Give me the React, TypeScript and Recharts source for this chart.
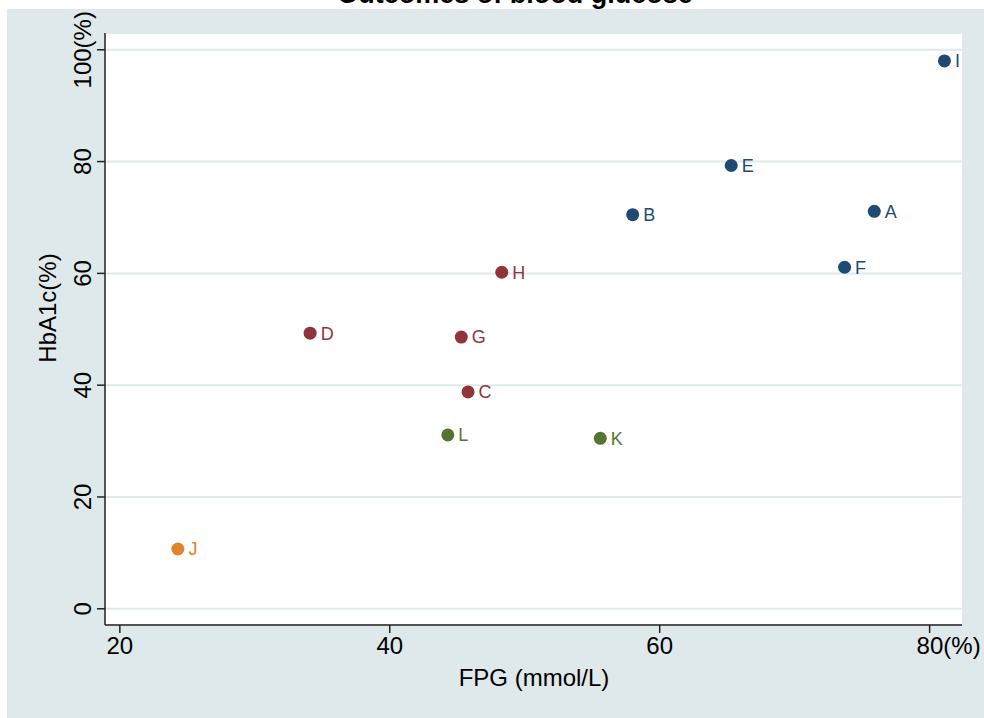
import { ScatterChart, Scatter, XAxis, YAxis, CartesianGrid, LabelList, Label } from "recharts";

// group 1 (navy)
const navyNames = ["I", "E", "A", "B", "F"];
const navyFpg = [81.1, 65.3, 75.9, 58.0, 73.7];
const navyHba1c = [98.0, 79.3, 71.1, 70.5, 61.1];

// group 2 (maroon)
const maroonNames = ["H", "D", "G", "C"];
const maroonFpg = [48.3, 34.1, 45.3, 45.8];
const maroonHba1c = [60.2, 49.3, 48.6, 38.8];

// group 3 (green)
const greenNames = ["L", "K"];
const greenFpg = [44.3, 55.6];
const greenHba1c = [31.1, 30.5];

// group 4 (orange)
const orangeNames = ["J"];
const orangeFpg = [24.3];
const orangeHba1c = [10.7];

const xTicks = [20, 40, 60, 80];
const yTicks = [0, 20, 40, 60, 80, 100];

const FONT = "'Liberation Sans', Arial, Helvetica, sans-serif";
const BG = "#dfe8ea";

const toRows = (names: string[], xs: number[], ys: number[]) =>
  names.map((n, i) => ({ name: n, fpg: xs[i], hba1c: ys[i] }));

const groups = [
  { key: "navy", color: "#1f4a74", rows: toRows(navyNames, navyFpg, navyHba1c) },
  { key: "maroon", color: "#8f343d", rows: toRows(maroonNames, maroonFpg, maroonHba1c) },
  { key: "green", color: "#55752f", rows: toRows(greenNames, greenFpg, greenHba1c) },
  { key: "orange", color: "#e2822a", rows: toRows(orangeNames, orangeFpg, orangeHba1c) },
];

const Dot = (color: string) => (props: any) => (
  <circle cx={props.cx} cy={props.cy} r={6.5} fill={color} />
);

function YTick(props: any) {
  const { x, y, payload } = props;
  const txt = payload.value === 100 ? "100(%)" : String(payload.value);
  const tx = x - 12;
  return (
    <text
      x={tx}
      y={y}
      transform={`rotate(-90, ${tx}, ${y})`}
      textAnchor="middle"
      dominantBaseline="central"
      fontSize={24}
      fontFamily={FONT}
      fill="#000"
    >
      {txt}
    </text>
  );
}

function XTick(props: any) {
  const { x, payload } = props;
  // last tick: the number sits on the tick, the unit follows it
  if (payload.value === 80) {
    return (
      <text x={x - 13} y={645} textAnchor="start" dominantBaseline="central" fontSize={24} fontFamily={FONT} fill="#000">
        80(%)
      </text>
    );
  }
  return (
    <text x={x} y={645} textAnchor="middle" dominantBaseline="central" fontSize={24} fontFamily={FONT} fill="#000">
      {String(payload.value)}
    </text>
  );
}

export default function App() {
  return (
    <div style={{ position: "absolute", left: 0, top: 0, width: 984, height: 718, background: "#fff", overflow: "hidden" }}>
      <div style={{ position: "absolute", left: 7, top: 9, width: 977, height: 709, background: BG }} />
      <div
        style={{
          position: "absolute",
          left: 0,
          width: 984,
          top: -21,
          textAlign: "center",
          fontFamily: FONT,
          fontWeight: "bold",
          fontSize: 27,
          lineHeight: "30px",
          paddingLeft: 46,
          boxSizing: "border-box",
        }}
      >
        Outcomes of blood glucose
      </div>
      <div style={{ position: "absolute", left: 0, top: 0 }}>
        <ScatterChart width={984} height={718} margin={{ top: 33, right: 22, bottom: 0, left: 0 }}>
          <CartesianGrid
            vertical={false}
            stroke={BG}
            strokeWidth={2}
            fill="#fff"
            fillOpacity={1}
          />
          <XAxis
            type="number"
            dataKey="fpg"
            domain={[18.9, 82.4]}
            ticks={xTicks}
            allowDataOverflow
            height={93}
            tick={<XTick />}
            tickSize={8}
            stroke="#222"
            strokeWidth={1.5}
          >
            <Label
              content={() => (
                <text x={534} y={677} textAnchor="middle" dominantBaseline="central" fontSize={24} fontFamily={FONT} fill="#000">
                  FPG (mmol/L)
                </text>
              )}
            />
          </XAxis>
          <YAxis
            type="number"
            dataKey="hba1c"
            domain={[-2.9, 103]}
            ticks={yTicks}
            allowDataOverflow
            width={105}
            tick={<YTick />}
            tickSize={8}
            stroke="#222"
            strokeWidth={1.5}
          >
            <Label
              content={() => (
                <text
                  x={47}
                  y={308}
                  transform="rotate(-90, 47, 308)"
                  textAnchor="middle"
                  dominantBaseline="central"
                  fontSize={24}
                  fontFamily={FONT}
                  fill="#000"
                >
                  HbA1c(%)
                </text>
              )}
            />
          </YAxis>
          {groups.map((g) => (
            <Scatter key={g.key} data={g.rows} fill={g.color} shape={Dot(g.color)} isAnimationActive={false}>
              <LabelList dataKey="name" position="right" offset={6} fill={g.color} fontSize={18} fontFamily={FONT} />
            </Scatter>
          ))}
        </ScatterChart>
      </div>
    </div>
  );
}
